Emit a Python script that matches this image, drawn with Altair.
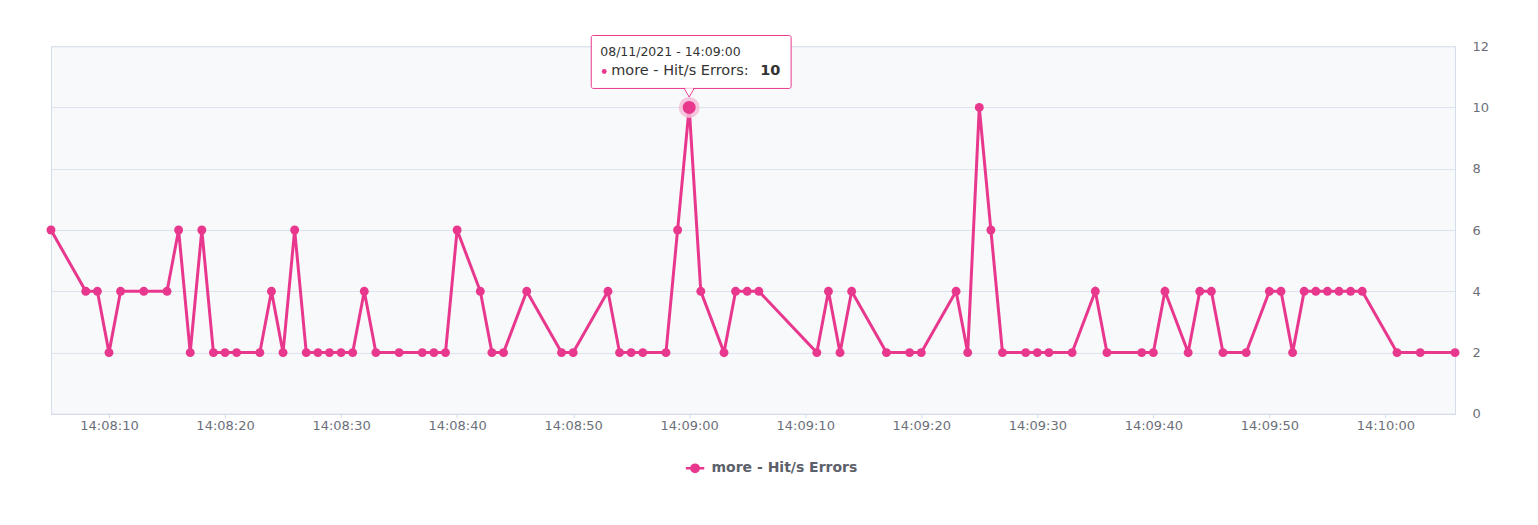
import altair as alt
import pandas as pd

times = ["14:08:05","14:08:08","14:08:09","14:08:10","14:08:11","14:08:13","14:08:15","14:08:16","14:08:17","14:08:18","14:08:19","14:08:20","14:08:21",
         "14:08:23","14:08:24","14:08:25","14:08:26","14:08:27","14:08:28","14:08:29","14:08:30","14:08:31","14:08:32","14:08:33",
         "14:08:35","14:08:37","14:08:38","14:08:39","14:08:40",
         "14:08:42","14:08:43","14:08:44","14:08:46","14:08:49","14:08:50",
         "14:08:53","14:08:54","14:08:55","14:08:56","14:08:58","14:08:59",
         "14:09:00","14:09:01","14:09:03","14:09:04","14:09:05","14:09:06",
         "14:09:11","14:09:12","14:09:13","14:09:14","14:09:17","14:09:19","14:09:20",
         "14:09:23","14:09:24","14:09:25","14:09:26","14:09:27",
         "14:09:29","14:09:30","14:09:31","14:09:33","14:09:35","14:09:36",
         "14:09:39","14:09:40","14:09:41","14:09:43","14:09:44","14:09:45","14:09:46","14:09:48",
         "14:09:50","14:09:51","14:09:52","14:09:53","14:09:54","14:09:55","14:09:56","14:09:57","14:09:58",
         "14:10:01","14:10:03","14:10:06"]
values = [6,4,4,2,4,4,4,6,2,6,2,2,2,
          2,4,2,6,2,2,2,2,2,4,2,
          2,2,2,2,6,
          4,2,2,4,2,2,
          4,2,2,2,2,6,
          10,4,2,4,4,4,
          2,4,2,4,2,2,2,
          4,2,10,6,2,
          2,2,2,2,4,2,
          2,2,4,2,4,4,2,2,
          4,4,2,4,4,4,4,4,4,
          2,2,2]
tick_times = ["14:08:10","14:08:20","14:08:30","14:08:40","14:08:50","14:09:00",
              "14:09:10","14:09:20","14:09:30","14:09:40","14:09:50","14:10:00"]
y_ticks = [0, 2, 4, 6, 8, 10, 12]
series_name = "more - Hit/s Errors"
day = "2021-08-11"
hover_time = "14:09:00"
hover_value = 10
tooltip_title = "08/11/2021 - 14:09:00"

PINK = "#e8388e"
FONT = "DejaVu Sans"
AXIS_GRAY = "#6b6f7a"
LINE_GRAY = "#d3dce8"


def ms(s):
    return int(pd.Timestamp(f"{day}T{s}", tz="UTC").value // 10**6)


df = pd.DataFrame({"t": [ms(s) for s in times], "v": values, "s": series_name})
hover = pd.DataFrame({"t": [ms(hover_time)], "v": [hover_value], "s": [series_name]})

x_enc = alt.X("t:T", title=None,
              scale=alt.Scale(type="utc", domain=[ms(times[0]), ms(times[-1])], nice=False),
              axis=alt.Axis(labelExpr="utcFormat(datum.value, '%H:%M:%S')",
                            values=[ms(s) for s in tick_times],
                            grid=False, labelColor=AXIS_GRAY, labelFontSize=13, labelFont=FONT,
                            domainColor=LINE_GRAY, tickColor=LINE_GRAY, tickSize=4, labelPadding=2))
y_enc = alt.Y("v:Q", title=None,
              scale=alt.Scale(domain=[0, 12], nice=False),
              axis=alt.Axis(orient="right", values=y_ticks, domain=False, ticks=False,
                            labelAlign="left", labelPadding=17, labelColor=AXIS_GRAY,
                            labelFontSize=13, labelFont=FONT, gridColor="#dbe3ed", gridWidth=1))

legend_symbol = "M-1,0H1M-0.4,0a0.4,0.4 0 1,0 0.8,0a0.4,0.4 0 1,0 -0.8,0Z"

base = alt.Chart(df).encode(x=x_enc, y=y_enc)
hbase = alt.Chart(hover).encode(x=x_enc, y=y_enc)

line = base.mark_line(strokeWidth=3, color=PINK).encode(
    color=alt.Color("s:N", scale=alt.Scale(range=[PINK]),
                    legend=alt.Legend(title=None, orient="none", legendX=634, legendY=412,
                                      direction="horizontal", symbolType=legend_symbol,
                                      symbolSize=340, symbolStrokeWidth=2.5, symbolFillColor=PINK,
                                      labelFont=FONT, labelFontSize=14, labelFontWeight="bold",
                                      labelColor="#5c606b", labelOffset=6))
)
points = base.mark_point(filled=True, size=80, color=PINK, opacity=1)

halo = hbase.mark_point(filled=True, size=440, color="#f5bdd7", opacity=0.85)
big = hbase.mark_point(filled=True, size=170, color=PINK, opacity=1)

pointer = hbase.mark_point(shape="triangle-down", filled=True, fill="white", stroke=PINK,
                           strokeWidth=1, size=110, yOffset=-15, opacity=1)
box = hbase.mark_rect(fill="white", stroke=PINK, strokeWidth=1, cornerRadius=2,
                      xOffset=-98, x2Offset=102, yOffset=-72, y2Offset=-19).encode(x2="t:T", y2="v:Q")
notch = hbase.mark_point(shape="triangle-down", filled=True, fill="white", strokeWidth=0,
                         size=70, yOffset=-15.5, opacity=1)
t1 = hbase.mark_text(text=tooltip_title, align="left", baseline="middle", dx=-89, dy=-55,
                     font=FONT, fontSize=12.5, color="#333333")
bullet = hbase.mark_point(filled=True, size=24, color=PINK, opacity=1, xOffset=-85, yOffset=-36)
t2 = hbase.mark_text(text=series_name + ":", align="left", baseline="middle", dx=-78, dy=-36,
                     font=FONT, fontSize=14.5, color="#333333")
t3 = hbase.mark_text(text=str(hover_value), align="left", baseline="middle", dx=71, dy=-36,
                     font=FONT, fontSize=14.5, fontWeight="bold", color="#333333")

chart = alt.layer(line, points, halo, big, pointer, box, notch, t1, bullet, t2, t3).properties(
    width=1405, height=368,
    autosize=alt.AutoSizeParams(type="none"),
    padding={"left": 43, "top": 38, "right": 75, "bottom": 100},
    background="white",
).configure_view(fill="#f8f9fb", stroke=LINE_GRAY, strokeWidth=1)

chart.save("out.html", embed_options={"renderer": "svg", "actions": False})
